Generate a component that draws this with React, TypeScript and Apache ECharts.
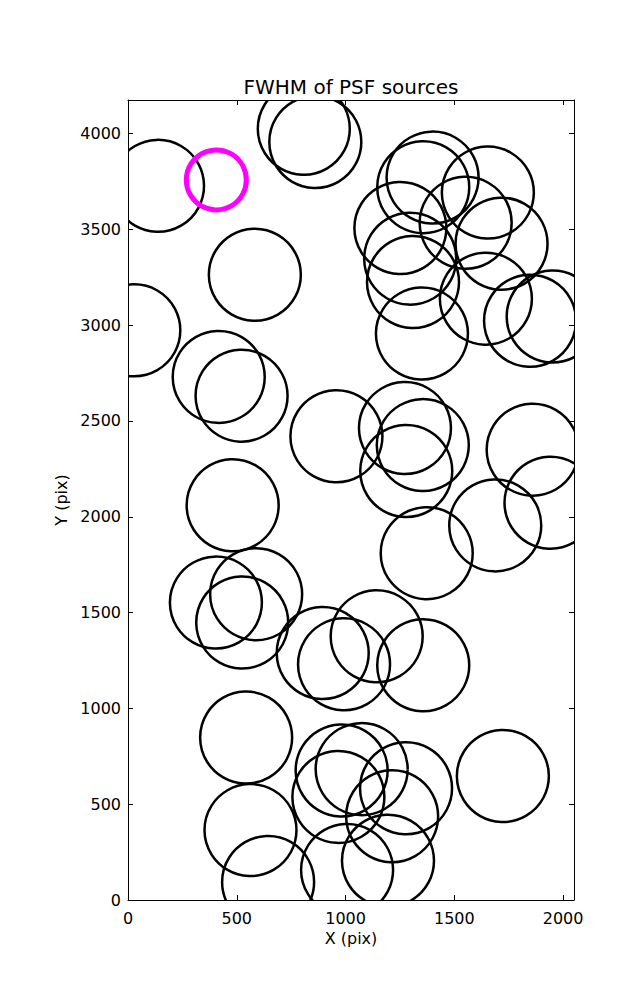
import React, { useEffect, useRef } from "react";
import * as echarts from "echarts";

// Source centres (data units, pixels of the detector)
const srcX = [
  138, 808, 861, 583, 29, 417, 522, 958, 481, 1273, 1355, 1279, 1373, 1688, 1860, 1942,
  1400, 1357, 1654, 1252, 1552, 1717, 1297, 1310, 1645, 1351, 1848, 1952,
  404, 589, 525, 895, 993, 1143, 1357, 543, 1723, 982, 1074, 967, 1278, 1214, 563, 644, 1007, 1195,
];
const srcY = [
  3727, 4025, 3956, 3263, 2973, 2730, 2632, 2420, 2060, 2463, 2374, 2239, 1810, 1955, 2350, 2073,
  3770, 3720, 3692, 3507, 3534, 3425, 3347, 3225, 3138, 2956, 3023, 3045,
  1552, 1596, 1448, 1289, 1230, 1376, 1225, 848, 647, 676, 683, 538, 583, 437, 365, 94, 157, 205,
];
// Highlighted source
const hiX = [406];
const hiY = [3758];

const xTicks = [0, 500, 1000, 1500, 2000];
const yTicks = [0, 500, 1000, 1500, 2000, 2500, 3000, 3500, 4000];

const X_MAX = 2050;
const Y_MAX = 4175;
const FONT = "DejaVu Sans";

export default function App() {
  const ref = useRef<HTMLDivElement>(null);
  useEffect(() => {
    if (!ref.current) return;
    const chart = echarts.init(ref.current, null, { renderer: "svg" });
    const mainData = srcX.map((x, i) => [x, srcY[i]]);
    const hiData = hiX.map((x, i) => [x, hiY[i]]);
    const fmt = (ticks: number[]) => (v: number) => (ticks.indexOf(v) >= 0 ? String(v) : "");
    const common = {
      splitLine: { show: false },
      axisLine: { show: true, onZero: false, lineStyle: { color: "#000", width: 1 } },
      axisTick: { show: true, inside: true, length: 5, lineStyle: { color: "#000", width: 1 } },
      z: 10,
    };
    const circleItem = (r: number, color: string, lw: number) => (params: any, api: any) => {
      const p = api.coord([api.value(0), api.value(1)]);
      const cs = params.coordSys;
      return {
        type: "circle",
        shape: { cx: p[0], cy: p[1], r },
        style: { fill: "none", stroke: color, lineWidth: lw },
        clipPath: {
          type: "rect",
          shape: { x: cs.x, y: cs.y, width: cs.width, height: cs.height },
        },
      };
    };
    chart.setOption({
      animation: false,
      backgroundColor: "#fff",
      title: {
        text: "FWHM of PSF sources",
        left: 346,
        top: 72,
        textAlign: "center",
        textStyle: { fontFamily: FONT, fontSize: 20, fontWeight: "normal", color: "#000" },
      },
      grid: { left: 128, right: 63, top: 100, bottom: 100, containLabel: false },
      xAxis: [
        {
          ...common,
          type: "value",
          min: 0,
          max: X_MAX,
          interval: 500,
          position: "bottom",
          name: "X (pix)",
          nameLocation: "middle",
          nameGap: 29,
          nameTextStyle: { fontFamily: FONT, fontSize: 16, color: "#000" },
          axisLabel: {
            fontFamily: FONT,
            fontSize: 16,
            color: "#000",
            margin: 10,
            showMaxLabel: false,
            formatter: fmt(xTicks),
          },
        },
        {
          ...common,
          type: "value",
          min: 0,
          max: X_MAX,
          interval: 500,
          position: "top",
          axisLabel: { show: false },
        },
      ],
      yAxis: [
        {
          ...common,
          type: "value",
          min: 0,
          max: Y_MAX,
          interval: 500,
          position: "left",
          name: "Y (pix)",
          nameLocation: "middle",
          nameGap: 55,
          nameTextStyle: { fontFamily: FONT, fontSize: 16, color: "#000" },
          axisLabel: {
            fontFamily: FONT,
            fontSize: 16,
            color: "#000",
            margin: 7,
            showMaxLabel: false,
            formatter: fmt(yTicks),
          },
        },
        {
          ...common,
          type: "value",
          min: 0,
          max: Y_MAX,
          interval: 500,
          position: "right",
          axisLabel: { show: false },
        },
      ],
      series: [
        {
          type: "custom",
          xAxisIndex: 0,
          yAxisIndex: 0,
          clip: false,
          data: mainData,
          renderItem: circleItem(46, "#000", 2.5),
          silent: true,
          z: 1,
        },
        {
          type: "custom",
          xAxisIndex: 0,
          yAxisIndex: 0,
          clip: false,
          data: hiData,
          renderItem: circleItem(30, "#ff00ff", 5),
          silent: true,
          z: 1,
        },
      ],
    });
    return () => chart.dispose();
  }, []);
  return (
    <div
      ref={ref}
      style={{ position: "absolute", left: 0, top: 0, width: 637, height: 1000 }}
    />
  );
}
